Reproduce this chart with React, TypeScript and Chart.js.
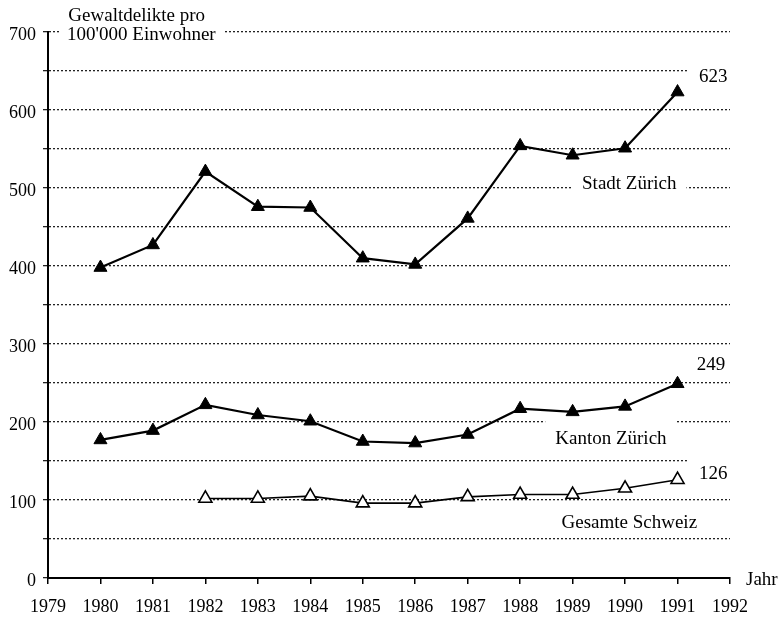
import React, { useEffect, useRef } from "react";
import { Chart, registerables } from "chart.js";

Chart.register(...registerables);

// ---- data ----
const years = [1980, 1981, 1982, 1983, 1984, 1985, 1986, 1987, 1988, 1989, 1990, 1991];
const stadtZuerich = [398, 427, 521, 476, 475, 410, 402, 461, 554, 542, 551, 623];
const kantonZuerich = [177, 189, 222, 209, 201, 175, 173, 184, 217, 213, 220, 249];
const schweizYears = [1982, 1983, 1984, 1985, 1986, 1987, 1988, 1989, 1990, 1991];
const gesamteSchweiz = [102, 102, 105, 96, 96, 104, 107, 107, 115, 126];

const xMin = 1979;
const xMax = 1992;
const yMin = 0;
const yMax = 700;
const yGridStep = 50;
const yLabelStep = 100;

const yTitleLines = ["Gewaltdelikte pro", "100'000 Einwohner"];
const xTitle = "Jahr";
const seriesNames = ["Stadt Zürich", "Kanton Zürich", "Gesamte Schweiz"];
const endLabels = ["623", "249", "126"];

const FAMILY = "'Liberation Serif', 'Times New Roman', serif";
const TICK_SIZE = 18;
const TEXT_SIZE = 19;

type Note = { text: string; x: number; y: number; pad?: [number, number, number] };
const notes: Note[] = [
  { text: yTitleLines[0], x: 1980.69, y: 721 },
  { text: yTitleLines[1], x: 1980.78, y: 696, pad: [8, 8, 8] },
  { text: endLabels[0], x: 1991.68, y: 642, pad: [12, 10, 4] },
  { text: seriesNames[0], x: 1990.08, y: 505, pad: [10, 6, 6] },
  { text: endLabels[1], x: 1991.64, y: 273 },
  { text: seriesNames[1], x: 1989.73, y: 178, pad: [10, 24, 4] },
  { text: endLabels[2], x: 1991.68, y: 133, pad: [12, 16, 4] },
  { text: seriesNames[2], x: 1990.08, y: 70 },
];

const notesPlugin = {
  id: "notes",
  beforeDatasetsDraw(chart: any) {
    const { ctx, scales } = chart;
    const xs = scales.x;
    const ys = scales.y;
    ctx.save();
    ctx.font = `${TEXT_SIZE}px ${FAMILY}`;
    ctx.textAlign = "center";
    ctx.textBaseline = "middle";
    for (const n of notes) {
      const px = xs.getPixelForValue(n.x);
      const py = ys.getPixelForValue(n.y);
      const w = ctx.measureText(n.text).width;
      if (n.pad) {
        const [padX, padT, padB] = n.pad;
        ctx.fillStyle = "#ffffff";
        ctx.fillRect(px - w / 2 - padX, py - padT, w + 2 * padX, padT + padB);
      }
      ctx.fillStyle = "#000000";
      ctx.fillText(n.text, px, py);
    }
    ctx.textAlign = "left";
    ctx.fillText(xTitle, xs.getPixelForValue(xMax) + 16, ys.getPixelForValue(yMin) + 2);
    ctx.restore();
  },
};

export default function App() {
  const canvasRef = useRef<HTMLCanvasElement | null>(null);

  useEffect(() => {
    const canvas = canvasRef.current;
    if (!canvas) return;
    const chart = new Chart(canvas, {
      type: "line",
      data: {
        datasets: [
          {
            label: seriesNames[0],
            data: years.map((yr, i) => ({ x: yr, y: stadtZuerich[i] })),
            borderColor: "#000",
            borderWidth: 2.2,
            pointStyle: "triangle",
            pointRadius: 7.5,
            pointBackgroundColor: "#000",
            pointBorderColor: "#000",
            pointBorderWidth: 1,
            tension: 0,
          },
          {
            label: seriesNames[1],
            data: years.map((yr, i) => ({ x: yr, y: kantonZuerich[i] })),
            borderColor: "#000",
            borderWidth: 2.2,
            pointStyle: "triangle",
            pointRadius: 7.5,
            pointBackgroundColor: "#000",
            pointBorderColor: "#000",
            pointBorderWidth: 1,
            tension: 0,
          },
          {
            label: seriesNames[2],
            data: schweizYears.map((yr, i) => ({ x: yr, y: gesamteSchweiz[i] })),
            borderColor: "#000",
            borderWidth: 1.6,
            pointStyle: "triangle",
            pointRadius: 7.5,
            pointBackgroundColor: "#fff",
            pointBorderColor: "#000",
            pointBorderWidth: 1.6,
            tension: 0,
          },
        ],
      },
      options: {
        responsive: false,
        animation: false,
        layout: { padding: { top: 32, right: 53, left: 0, bottom: 0 } },
        plugins: {
          legend: { display: false },
          tooltip: { enabled: false },
        },
        scales: {
          x: {
            type: "linear",
            min: xMin,
            max: xMax,
            afterFit(s: any) {
              s.height = 44;
            },
            ticks: {
              stepSize: 1,
              autoSkip: false,
              maxRotation: 0,
              padding: 12,
              color: "#000",
              font: { family: FAMILY, size: TICK_SIZE },
              callback: (v: any) => String(v),
            },
            grid: {
              display: true,
              drawOnChartArea: false,
              drawTicks: true,
              tickLength: 6,
              color: "#000",
              lineWidth: 1.5,
            },
            border: { display: true, color: "#000", width: 2 },
          },
          y: {
            type: "linear",
            min: yMin,
            max: yMax,
            afterFit(s: any) {
              s.width = 48;
            },
            ticks: {
              stepSize: yGridStep,
              autoSkip: false,
              padding: 7,
              labelOffset: 3,
              color: "#000",
              font: { family: FAMILY, size: TICK_SIZE },
              callback: (v: any) => (Number(v) % yLabelStep === 0 ? String(v) : ""),
            },
            grid: {
              color: "#222",
              lineWidth: 1.3,
              drawTicks: true,
              tickLength: 5,
            },
            border: { display: true, color: "#000", width: 2, dash: [2, 2] },
          },
        },
      },
      plugins: [notesPlugin],
    } as any);
    return () => chart.destroy();
  }, []);

  return (
    <div style={{ position: "absolute", left: 0, top: 0, width: 783, height: 622, background: "#fff" }}>
      <canvas ref={canvasRef} width={783} height={622} style={{ display: "block" }} />
    </div>
  );
}
